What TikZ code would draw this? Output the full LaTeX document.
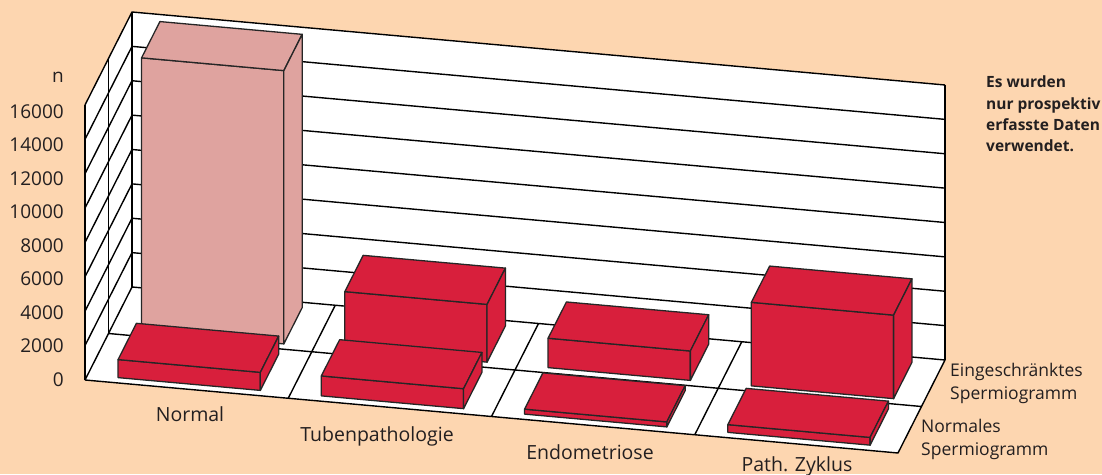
\documentclass[tikz,border=0pt]{standalone}
\usepackage{fontspec}
\setmainfont{Open Sans}
\definecolor{bgpeach}{HTML}{FDD6B0}
\definecolor{barred}{HTML}{D81F3C}
\definecolor{barpink}{HTML}{DFA39F}
\definecolor{txt}{HTML}{231F20}
\newcommand{\drawcuboid}[4]{%
  % #1 centre along category axis, #2 front depth, #3 height (thousands), #4 colour
  \filldraw[barline, fill=#4] ({#1-0.0875},#2,0) -- ({#1+0.0875},#2,0) -- ({#1+0.0875},#2,#3) -- ({#1-0.0875},#2,#3) -- cycle;
  \filldraw[barline, fill=#4] ({#1-0.0875},#2,#3) -- ({#1+0.0875},#2,#3) -- ({#1+0.0875},{#2+0.39},#3) -- ({#1-0.0875},{#2+0.39},#3) -- cycle;
  \filldraw[barline, fill=#4] ({#1+0.0875},#2,0) -- ({#1+0.0875},{#2+0.39},0) -- ({#1+0.0875},{#2+0.39},#3) -- ({#1+0.0875},#2,#3) -- cycle;
}
\tikzset{
  gridline/.style={draw=black, line width=1.4pt, line join=round},
  barline/.style={draw=black!85, line width=1.3pt, line join=round},
  axislabel/.style={font=\fontsize{19}{23}\selectfont, text=txt, inner sep=0pt},
  catlabel/.style={font=\fontsize{19.5}{23}\selectfont, text=txt, inner sep=0pt, anchor=base},
  legendlabel/.style={font=\fontsize{17.5}{23.2}\selectfont, text=txt, inner sep=0pt, anchor=north west, align=left},
  notelabel/.style={font=\bfseries\fontsize{15.5}{21.3}\selectfont, text=txt, inner sep=0pt, anchor=north west, align=left},
}
\begin{document}
\begin{tikzpicture}[x=1pt,y=1pt]
\useasboundingbox (0,0) rectangle (1102,474);
\fill[bgpeach] (0,0) rectangle (1102,474);

\begin{scope}[shift={(85pt,94pt)}, x={(813pt,-73pt)}, y={(47pt,93pt)}, z={(0pt,17.1875pt)}]
  % walls
  \fill[white] (0,1,0) -- (1,1,0) -- (1,1,16) -- (0,1,16) -- cycle;
  \fill[white] (0,0,0) -- (0,1,0) -- (0,1,16) -- (0,0,16) -- cycle;
  \fill[white] (0,0,0) -- (1,0,0) -- (1,1,0) -- (0,1,0) -- cycle;
  % grid
  \foreach \k in {0,2,...,16} \draw[gridline] (0,0,\k) -- (0,1,\k) -- (1,1,\k);
  \draw[gridline] (0,0,0) -- (0,0,16);
  \draw[gridline] (0,0.5,0) -- (0,0.5,16);
  \draw[gridline] (0,1,0) -- (0,1,16);
  \draw[gridline] (1,1,0) -- (1,1,16);
  \foreach \t in {0.25,0.5,0.75} \draw[gridline] (\t,0,0) -- (\t,1,0);
  \draw[gridline] (0,0.5,0) -- (1,0.5,0);
  \draw[gridline] (0,0,0) -- (1,0,0) -- (1,1,0);
  % back row (Eingeschraenktes Spermiogramm)
  \drawcuboid{0.125}{0.555}{15.9}{barpink}
  \drawcuboid{0.375}{0.555}{3.36}{barred}
  \drawcuboid{0.625}{0.555}{1.71}{barred}
  \drawcuboid{0.875}{0.555}{4.86}{barred}
  % front row (Normales Spermiogramm)
  \drawcuboid{0.125}{0.055}{1.05}{barred}
  \drawcuboid{0.375}{0.055}{1.16}{barred}
  \drawcuboid{0.625}{0.055}{0.29}{barred}
  \drawcuboid{0.875}{0.055}{0.45}{barred}
\end{scope}

% axis labels
\foreach \v [count=\i from 0] in {0,2000,4000,6000,8000,10000,12000,14000,16000}
  \node[axislabel, anchor=base east] (ax\i) at (64, {88+33.45*\i}) {\v};
\node[axislabel, anchor=base east] (axn) at (64, 391) {n};

% category labels
\node[catlabel] (cnormal) at (190,53) {Normal};
\node[catlabel] (ctuben) at (377,33) {Tubenpathologie};
\node[catlabel] (cendo) at (590,15) {Endometriose};
\node[catlabel] (cpath) at (797,3) {Path. Zyklus};

% legend
\node[legendlabel] (legback) at (950,111) {Eingeschränktes\\Spermiogramm};
\node[legendlabel] (legfront) at (921,55) {Normales\\Spermiogramm};

% note
\node[notelabel] (note) at (986,398) {Es wurden\\nur prospektiv\\erfasste Daten\\verwendet.};
\end{tikzpicture}
\end{document}
